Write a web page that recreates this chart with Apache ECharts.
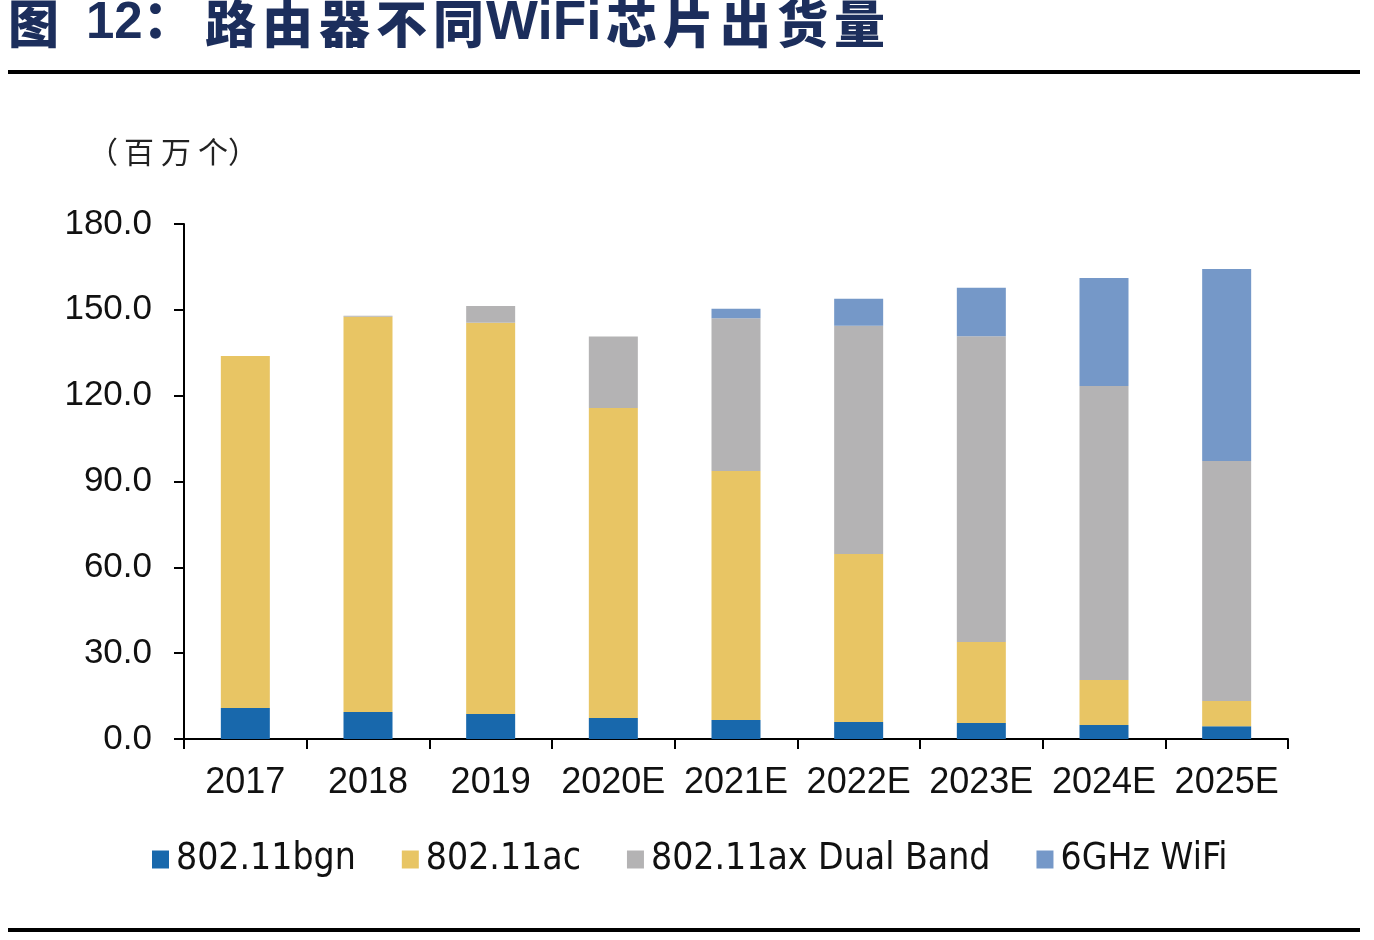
<!DOCTYPE html>
<html><head><meta charset="utf-8">
<script src="https://cdn.jsdelivr.net/npm/echarts@6/dist/echarts.min.js"></script>
<style>html,body{margin:0;padding:0;background:#fff;}#c{width:1374px;height:940px;}</style>
</head><body><div id="c"></div>
<script>
const categories = ['2017','2018','2019','2020E','2021E','2022E','2023E','2024E','2025E'];
const bgn = [10.8, 9.4, 8.7, 7.3, 6.6, 5.9, 5.6, 4.9, 4.5];
const ac = [123.1, 138.2, 136.8, 108.4, 87.1, 58.8, 28.3, 15.7, 8.8];
const axDual = [0, 0.3, 5.8, 25.0, 53.4, 79.7, 106.9, 102.8, 83.9];
const wifi6g = [0, 0, 0, 0, 3.3, 9.5, 16.9, 37.7, 67.1];
const yTicks = ['0.0','30.0','60.0','90.0','120.0','150.0','180.0'];
const seriesNames = ['802.11bgn','802.11ac','802.11ax Dual Band','6GHz WiFi'];
const barColors = ['#1868AC','#E8C564','#B4B3B4','#7598C8'];
const titleParts = ['图','12：','路','由','器','不','同','WiFi','芯','片','出','货','量'];
const titleX = [8, 86, 205, 262, 319, 376, 433, 486, 606, 663, 720, 777, 834];
const unitParts = ['（','百','万','个','）'];
const unitX = [88, 124, 161, 198, 228];

const chart = echarts.init(document.getElementById('c'));
const condensed = '"Liberation Sans Narrow","Arial Narrow","DejaVu Sans Condensed",sans-serif';
const sans = '"Liberation Sans",Arial,sans-serif';
const cjk = '"Noto Sans CJK SC",sans-serif';
function mk(name, data, i){
  return {name:name, type:'bar', stack:'s', data:data, barWidth:49,
    itemStyle:{color:barColors[i]}, emphasis:{disabled:true}};
}
const graphics = [
  {type:'rect', shape:{x:8, y:70, width:1352, height:4}, style:{fill:'#000'}},
  {type:'rect', shape:{x:8, y:928, width:1352, height:4}, style:{fill:'#000'}}
];
titleParts.forEach(function(t, i){
  const latin = (t==='WiFi'||t==='12：');
  graphics.push({type:'text', left:titleX[i], top: t==='WiFi' ? -4 : -2, style:{text:t, fontSize: t==='WiFi' ? 55 : 51, fontWeight:900,
    fill:'#1C2E5C', fontFamily: latin ? '"Liberation Sans",' + cjk : cjk}});
});
unitParts.forEach(function(t, i){
  graphics.push({type:'text', left:unitX[i], top:137, style:{text:t, fontSize:30, fill:'#222', fontFamily:cjk}});
});
chart.setOption({
  backgroundColor:'#ffffff',
  animation:false,
  grid:{left:184, right:86, top:224, bottom:201},
  xAxis:{type:'category', data:categories,
    axisLine:{lineStyle:{color:'#000', width:2}},
    axisTick:{show:true, length:10, lineStyle:{color:'#000', width:2}},
    axisLabel:{interval:0, color:'#111', fontSize:36, fontFamily:sans, margin:26}},
  yAxis:{type:'value', min:0, max:180, interval:30,
    axisLine:{show:true, lineStyle:{color:'#000', width:2}},
    axisTick:{show:true, length:10, lineStyle:{color:'#000', width:2}},
    splitLine:{show:false},
    axisLabel:{color:'#111', fontSize:35, fontFamily:sans, margin:32,
      formatter:function(v){return yTicks[Math.round(v/30)];}}},
  legend:{left:152, top:841, padding:0, itemWidth:17, itemHeight:18, itemGap:46,
    icon:'rect',
    textStyle:{fontSize:37, fontFamily:condensed, color:'#111', padding:[0,0,0,2]},
    data:seriesNames},
  graphic:graphics,
  series:[mk(seriesNames[0],bgn,0), mk(seriesNames[1],ac,1), mk(seriesNames[2],axDual,2), mk(seriesNames[3],wifi6g,3)]
});
</script></body></html>
